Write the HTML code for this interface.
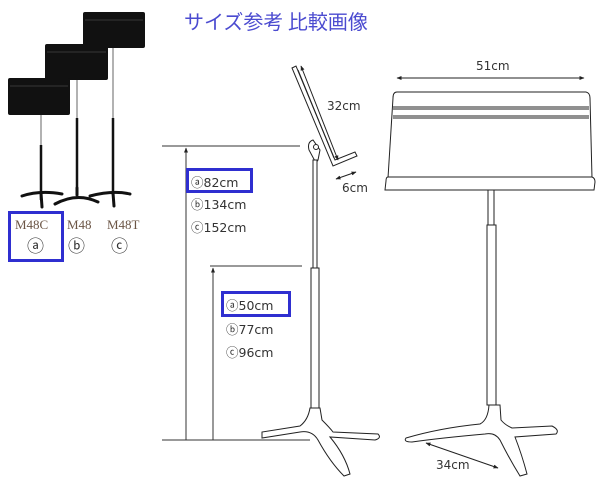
<!DOCTYPE html>
<html><head><meta charset="utf-8"><style>
html,body{margin:0;padding:0;background:#fff;}
svg{display:block}
.s{font-family:"DejaVu Sans","Liberation Sans","Noto Sans CJK JP",sans-serif;}
.serif{font-family:"Liberation Serif",serif;}
.jp{font-family:"Noto Sans CJK JP",sans-serif;}
</style></head><body>
<svg width="600" height="483" viewBox="0 0 600 483" xmlns="http://www.w3.org/2000/svg">
<defs>
<marker id="a" viewBox="0 0 10 10" refX="9" refY="5" markerWidth="5" markerHeight="5" orient="auto-start-reverse"><path d="M0,1 L10,5 L0,9 z" fill="#222"/></marker>
</defs>
<text class="jp" x="184" y="29" font-size="20" fill="#4b4bd0">サイズ参考 比較画像</text>

<!-- left small stands -->
<g fill="#111">
<rect x="83" y="12" width="62" height="36" rx="2"/>
<rect x="45" y="44" width="63" height="36" rx="2"/>
<rect x="8" y="78" width="62" height="37" rx="2"/>
</g>
<g stroke="#444" stroke-width="0.8" fill="none">
<line x1="85" y1="20" x2="143" y2="20"/><line x1="47" y1="52" x2="106" y2="52"/><line x1="10" y1="86" x2="68" y2="86"/>
</g>
<g stroke="#999" stroke-width="1.5">
<line x1="113" y1="48" x2="113" y2="118"/>
<line x1="77" y1="80" x2="77" y2="150"/>
<line x1="41" y1="115" x2="41" y2="145"/>
</g>
<g stroke="#111" stroke-width="2.5">
<line x1="113" y1="118" x2="113" y2="195"/>
<line x1="77" y1="118" x2="77" y2="190"/>
<line x1="41" y1="145" x2="41" y2="200"/>
</g>
<g stroke="#111" stroke-width="3" fill="none" stroke-linecap="round">
<path d="M22,196 Q40,190 62,194"/><path d="M41,193 L42,207"/>
<path d="M55,204 Q77,192 98,202"/><path d="M77,195 L77,188"/>
<path d="M90,196 Q113,190 130,194"/><path d="M113,193 L114,206"/>
</g>
<g class="serif" font-size="13" fill="#6b5545">
<text x="15" y="229">M48C</text><text x="67" y="229">M48</text><text x="107" y="229">M48T</text>
</g>
<g class="s" font-size="17" fill="#333">
<text x="27" y="252">ⓐ</text><text x="68" y="252">ⓑ</text><text x="111" y="252">ⓒ</text>
</g>
<rect x="9.5" y="212.5" width="53" height="48" fill="none" stroke="#2f2fd0" stroke-width="3"/>

<!-- dimension lines -->
<g stroke="#333" stroke-width="1">
<line x1="162" y1="146" x2="300" y2="146"/>
<line x1="210" y1="266" x2="302" y2="266"/>
<line x1="162" y1="440" x2="310" y2="440"/>
<line x1="186" y1="148" x2="186" y2="440" marker-start="url(#a)"/>
<line x1="213" y1="268" x2="213" y2="440" marker-start="url(#a)"/>
</g>
<g class="s" font-size="12.5" fill="#333">
<text x="191" y="187">ⓐ82cm</text><text x="191" y="209">ⓑ134cm</text><text x="191" y="232">ⓒ152cm</text>
<text x="226" y="310">ⓐ50cm</text><text x="226" y="334">ⓑ77cm</text><text x="226" y="357">ⓒ96cm</text>
</g>
<rect x="187.5" y="169.5" width="64" height="22" fill="none" stroke="#2f2fd0" stroke-width="3"/>
<rect x="222.5" y="292.5" width="67" height="23" fill="none" stroke="#2f2fd0" stroke-width="3"/>

<!-- side stand -->
<g stroke="#222" stroke-width="1" fill="#fff">
<path d="M292,68 L296,66 L335,160 L355,152 L357,156 L333,166 Z"/>
<path d="M298,70 L334,158"/>
<path d="M309,150 Q307,142 313,140 L320,150 L318,160 L316,163 Z"/>
<circle cx="316" cy="147" r="2.5"/>
<rect x="313" y="160" width="4" height="108"/>
<rect x="311" y="268" width="8" height="140"/>
<path d="M310,408 L320,408 L322,420 Q330,428 333,432 L378,434 Q382,438 375,440 L330,437 Q345,455 350,474 L344,476 Q330,462 318,440 Q312,430 300,432 L262,438 L262,432 L300,426 Q308,420 310,408 Z"/>
</g>
<line x1="301" y1="66" x2="338" y2="160" stroke="#222" marker-start="url(#a)" marker-end="url(#a)"/>
<line x1="336" y1="179" x2="356" y2="172" stroke="#222" marker-start="url(#a)" marker-end="url(#a)"/>
<g class="s" font-size="12" fill="#333"><text x="327" y="110">32cm</text><text x="342" y="192">6cm</text></g>

<!-- front stand -->
<line x1="397" y1="78" x2="584" y2="78" stroke="#222" marker-start="url(#a)" marker-end="url(#a)"/>
<text class="s" x="476" y="70" font-size="12" fill="#333">51cm</text>
<g stroke="#222" stroke-width="1" fill="#fff">
<path d="M397,92 L586,92 Q590,93 590,98 L592,178 L388,178 L393,98 Q393,92 397,92 Z"/>
<line x1="393" y1="107" x2="589" y2="107"/><line x1="393" y1="109" x2="589" y2="109"/>
<line x1="393" y1="116" x2="589" y2="116"/><line x1="393" y1="118" x2="589" y2="118"/>
<path d="M388,177 L592,177 Q595,178 595,182 L594,190 L385,190 L386,181 Q386,177 388,177 Z"/>
<rect x="488" y="190" width="6" height="35"/>
<rect x="487" y="225" width="9" height="180"/>
<path d="M489,405 L500,405 L501,420 Q505,425 512,428 L552,426 Q560,430 556,434 L515,437 Q522,455 527,474 L520,476 Q510,460 500,440 Q495,432 485,434 Q440,438 412,442 Q403,442 406,438 Q440,428 480,424 Q488,420 489,405 Z"/>
</g>
<line x1="426" y1="443" x2="498" y2="468" stroke="#222" marker-start="url(#a)" marker-end="url(#a)"/>
<text class="s" x="436" y="469" font-size="12" fill="#333">34cm</text>
</svg>
</body></html>
